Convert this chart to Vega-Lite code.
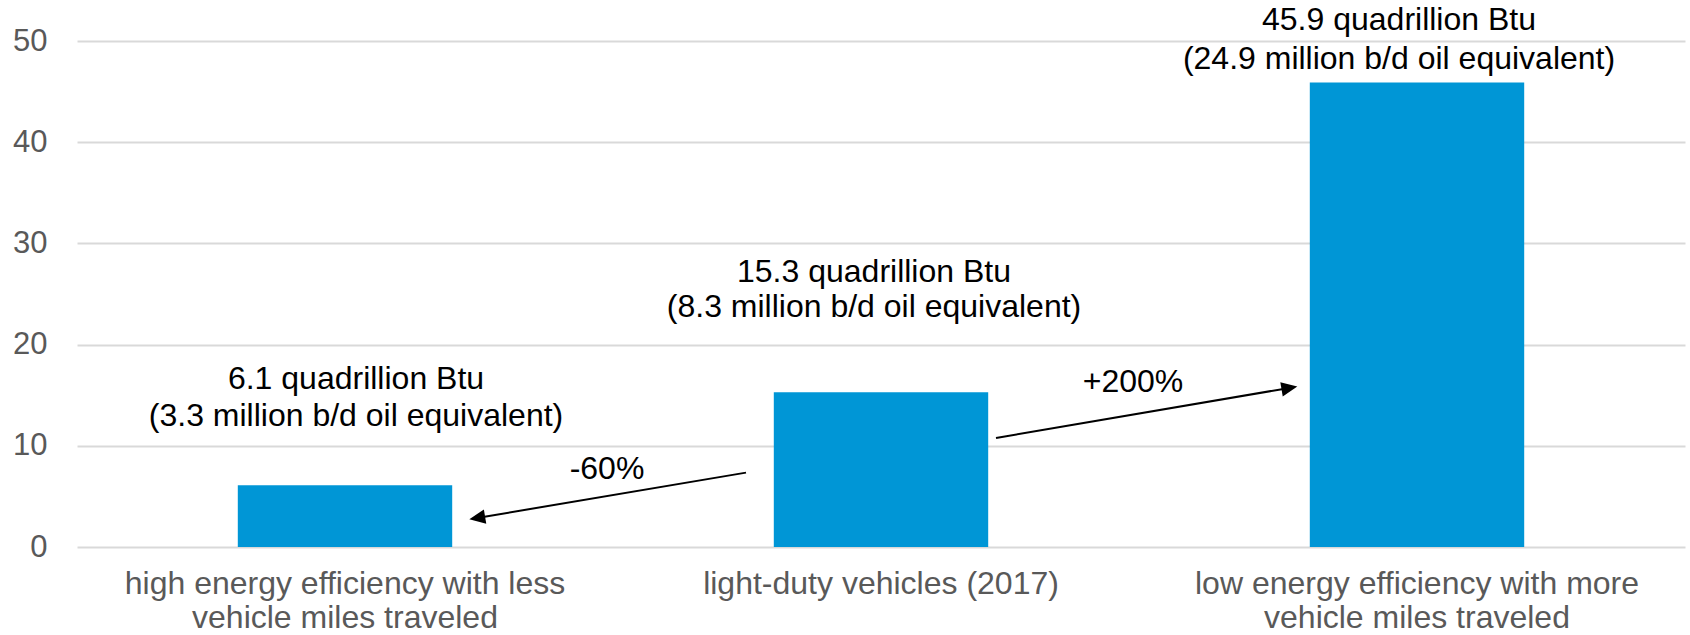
{
  "$schema": "https://vega.github.io/schema/vega-lite/v6.json",
  "width": 1608,
  "height": 506,
  "autosize": {"type": "none"},
  "padding": {"left": 77, "top": 41, "right": 5, "bottom": 88},
  "background": "white",
  "config": {"view": {"stroke": null}, "font": "Liberation Sans"},
  "resolve": {"axis": {"x": "independent", "y": "independent"}},
  "datasets": {
    "energy": [
      {"category": "high energy efficiency with less\nvehicle miles traveled", "value": 6.1, "label": "6.1 quadrillion Btu\n(3.3 million b/d oil equivalent)"},
      {"category": "light-duty vehicles (2017)", "value": 15.3, "label": "15.3 quadrillion Btu\n(8.3 million b/d oil equivalent)"},
      {"category": "low energy efficiency with more\nvehicle miles traveled", "value": 45.9, "label": "45.9 quadrillion Btu\n(24.9 million b/d oil equivalent)"}
    ],
    "changes": [
      {"from": "light-duty vehicles (2017)", "to": "high energy efficiency with less\nvehicle miles traveled", "change": "-60%"},
      {"from": "light-duty vehicles (2017)", "to": "low energy efficiency with more\nvehicle miles traveled", "change": "+200%"}
    ]
  },
  "layer": [
    {
      "data": {"name": "energy"},
      "mark": {"type": "bar", "color": "#0096d6"},
      "encoding": {
        "x": {
          "field": "category", "type": "nominal", "sort": null,
          "scale": {
            "domain": ["high energy efficiency with less\nvehicle miles traveled", "light-duty vehicles (2017)", "low energy efficiency with more\nvehicle miles traveled"],
            "paddingInner": 0.6, "paddingOuter": 0.3
          },
          "axis": {
            "title": null, "labelAngle": 0, "labelExpr": "split(datum.label, '\\n')",
            "labelFontSize": 32, "labelColor": "#595959", "labelFont": "Liberation Sans",
            "labelBaseline": "top", "labelPadding": 21, "labelLineHeight": 34,
            "labelLimit": 1000, "labelOverlap": false, "domain": false, "ticks": false, "tickSize": 0, "grid": false
          }
        },
        "y": {
          "field": "value", "type": "quantitative",
          "scale": {"domain": [0, 50], "nice": false, "zero": true},
          "axis": {
            "title": null, "values": [0, 10, 20, 30, 40, 50],
            "labelFontSize": 31, "labelColor": "#595959", "labelFont": "Liberation Sans",
            "labelPadding": 30, "domain": false, "ticks": false, "tickSize": 0,
            "grid": true, "gridColor": "#d9d9d9", "gridWidth": 2, "zindex": 0
          }
        }
      }
    },
    {
      "data": {"name": "energy"},
      "transform": [{"filter": "datum.value == 6.1"}],
      "mark": {"type": "text", "lineBreak": "\n", "fontSize": 32, "font": "Liberation Sans", "color": "#000000", "baseline": "top", "align": "center", "dx": 11, "dy": -121, "lineHeight": 37},
      "encoding": {
        "x": {"field": "category", "type": "nominal", "sort": null, "axis": null},
        "y": {"field": "value", "type": "quantitative", "axis": null},
        "text": {"field": "label"}
      }
    },
    {
      "data": {"name": "energy"},
      "transform": [{"filter": "datum.value == 15.3"}],
      "mark": {"type": "text", "lineBreak": "\n", "fontSize": 32, "font": "Liberation Sans", "color": "#000000", "baseline": "top", "align": "center", "dx": -7, "dy": -135, "lineHeight": 35},
      "encoding": {
        "x": {"field": "category", "type": "nominal", "sort": null, "axis": null},
        "y": {"field": "value", "type": "quantitative", "axis": null},
        "text": {"field": "label"}
      }
    },
    {
      "data": {"name": "energy"},
      "transform": [{"filter": "datum.value == 45.9"}],
      "mark": {"type": "text", "lineBreak": "\n", "fontSize": 32, "font": "Liberation Sans", "color": "#000000", "baseline": "top", "align": "center", "dx": -18, "dy": -77, "lineHeight": 39},
      "encoding": {
        "x": {"field": "category", "type": "nominal", "sort": null, "axis": null},
        "y": {"field": "value", "type": "quantitative", "axis": null},
        "text": {"field": "label"}
      }
    },
    {
      "data": {"name": "changes"},
      "transform": [{"filter": "datum.change == '-60%'"}],
      "mark": {"type": "rule", "color": "#000000", "strokeWidth": 2, "xOffset": -135, "x2Offset": 132},
      "encoding": {
        "x": {"field": "from", "type": "nominal", "sort": null, "axis": null},
        "x2": {"field": "to"},
        "y": {"datum": 7.35, "type": "quantitative", "axis": null},
        "y2": {"datum": 2.87}
      }
    },
    {
      "data": {"name": "changes"},
      "transform": [{"filter": "datum.change == '-60%'"}],
      "mark": {"type": "point", "shape": "M 0 0 L -2 -0.9 L -2 0.9 Z", "size": 256, "filled": true, "opacity": 1, "color": "#000000", "angle": 170.4, "xOffset": 124.3},
      "encoding": {
        "x": {"field": "to", "type": "nominal", "sort": null, "axis": null},
        "y": {"datum": 2.74, "type": "quantitative", "axis": null}
      }
    },
    {
      "data": {"name": "changes"},
      "transform": [{"filter": "datum.change == '-60%'"}],
      "mark": {"type": "text", "fontSize": 32, "font": "Liberation Sans", "color": "#000000", "baseline": "alphabetic", "align": "center", "dx": -274},
      "encoding": {
        "x": {"field": "from", "type": "nominal", "sort": null, "axis": null},
        "y": {"datum": 6.76, "type": "quantitative", "axis": null},
        "text": {"field": "change"}
      }
    },
    {
      "data": {"name": "changes"},
      "transform": [{"filter": "datum.change == '+200%'"}],
      "mark": {"type": "rule", "color": "#000000", "strokeWidth": 2, "xOffset": 115, "x2Offset": -127.6},
      "encoding": {
        "x": {"field": "from", "type": "nominal", "sort": null, "axis": null},
        "x2": {"field": "to"},
        "y": {"datum": 10.77, "type": "quantitative", "axis": null},
        "y2": {"datum": 15.72}
      }
    },
    {
      "data": {"name": "changes"},
      "transform": [{"filter": "datum.change == '+200%'"}],
      "mark": {"type": "point", "shape": "M 0 0 L -2 -0.9 L -2 0.9 Z", "size": 256, "filled": true, "opacity": 1, "color": "#000000", "angle": -9.7, "xOffset": -119.7},
      "encoding": {
        "x": {"field": "to", "type": "nominal", "sort": null, "axis": null},
        "y": {"datum": 15.85, "type": "quantitative", "axis": null}
      }
    },
    {
      "data": {"name": "changes"},
      "transform": [{"filter": "datum.change == '+200%'"}],
      "mark": {"type": "text", "fontSize": 32, "font": "Liberation Sans", "color": "#000000", "baseline": "alphabetic", "align": "center", "dx": 252},
      "encoding": {
        "x": {"field": "from", "type": "nominal", "sort": null, "axis": null},
        "y": {"datum": 15.36, "type": "quantitative", "axis": null},
        "text": {"field": "change"}
      }
    }
  ]
}
